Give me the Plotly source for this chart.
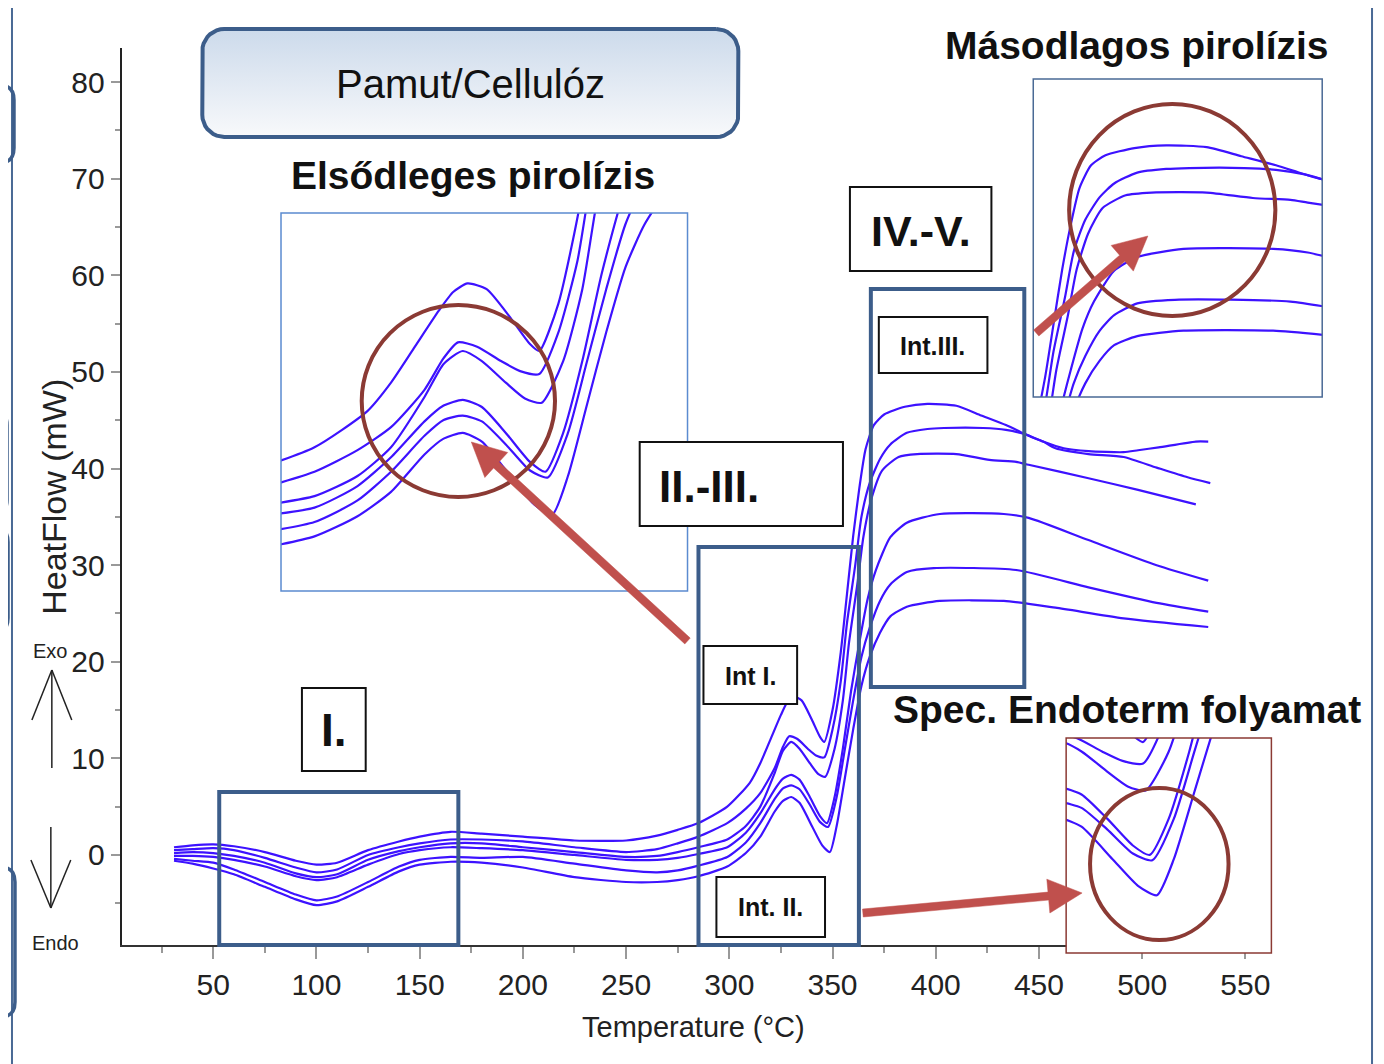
import numpy as np
import plotly.graph_objects as go

# page body has an 8px margin; figure coordinates are screen coordinates minus 8
OFF = 8
W, H = 1376, 1056

# ---------------- data ----------------
T_c1 = [31, 40, 50, 60, 75, 90, 100, 110, 125, 140, 150, 165, 180, 200, 225, 250, 265, 275, 285, 299,
        310, 315, 320, 325, 328, 331, 335, 340, 344, 346, 350, 354, 357, 360, 363, 366, 370, 375, 385,
        396, 410, 422, 434, 441, 446, 452, 458, 474, 491, 507, 522, 533]
HF_c1 = [0.8, 1.0, 1.1, 0.9, 0.3, -0.6, -1.0, -0.8, 0.5, 1.4, 1.9, 2.4, 2.2, 1.9, 1.5, 1.5, 2.0, 2.6, 3.3, 5.0,
         7.5, 9.5, 12.0, 14.5, 15.8, 16.4, 16.0, 14.0, 12.2, 11.7, 15.0, 21.0, 27.0, 33.0, 38.0, 42.0, 44.5, 45.6, 46.4,
         46.7, 46.5, 45.5, 44.5, 43.8, 43.3, 42.8, 42.1, 41.5, 41.2, 40.1, 39.1, 38.5]

T_c2 = [31, 40, 50, 60, 75, 90, 100, 110, 125, 140, 150, 165, 180, 200, 225, 250, 265, 275, 285, 299,
        308, 315, 322, 326, 329, 333, 338, 342, 346, 350, 354, 357, 361, 364, 368, 373, 378, 386, 396,
        404, 423, 434, 444, 452, 462, 474, 491, 498, 508, 526, 532]
HF_c2 = [0.5, 0.6, 0.7, 0.5, -0.3, -1.3, -1.8, -1.5, 0.0, 0.8, 1.2, 1.6, 1.6, 1.4, 0.8, 0.3, 0.6, 1.2, 1.9, 3.3,
         4.8, 6.4, 9.0, 11.2, 12.3, 12.0, 11.0, 10.3, 10.1, 13.0, 18.0, 24.0, 30.0, 35.0, 38.5, 41.0, 42.5, 43.7, 44.1,
         44.2, 44.2, 44.0, 43.5, 42.8, 42.1, 41.8, 41.7, 41.9, 42.2, 42.8, 42.8]

T_c3 = [31, 40, 50, 60, 75, 90, 100, 110, 125, 140, 150, 165, 180, 200, 225, 250, 265, 275, 285, 299,
        308, 315, 322, 326, 330, 334, 339, 343, 346.5, 351, 355, 358, 362, 365, 369, 374, 382, 391, 410,
        426, 439, 445, 474, 498, 526]
HF_c3 = [0.2, 0.3, 0.2, -0.1, -0.8, -1.9, -2.3, -2.0, -0.5, 0.4, 0.8, 1.2, 1.2, 0.8, 0.3, -0.2, -0.1, 0.3, 0.8, 1.6,
         3.0, 5.0, 8.5, 10.8, 11.7, 11.0, 9.5, 8.4, 8.1, 11.0, 16.0, 22.0, 28.0, 33.0, 37.0, 39.8, 41.2, 41.5, 41.5,
         40.9, 40.7, 40.4, 39.0, 37.8, 36.3]

T_c4 = [31, 40, 50, 60, 75, 90, 100, 110, 125, 140, 150, 165, 180, 200, 225, 250, 265, 275, 285, 299,
        308, 315, 322, 326, 330, 334, 339, 344, 347.3, 351, 355, 359, 363, 367, 371, 378, 386, 402, 433,
        445, 474, 507, 532]
HF_c4 = [-0.1, -0.1, -0.2, -0.5, -1.2, -2.2, -2.6, -2.3, -1.0, 0.1, 0.5, 0.8, 0.7, 0.5, 0.0, -0.5, -0.5, -0.3, 0.1, 0.8,
         2.3, 4.3, 6.8, 7.9, 8.3, 7.8, 6.0, 4.0, 3.3, 6.0, 11.0, 17.0, 22.0, 26.5, 29.5, 32.9, 34.4, 35.3, 35.3,
         34.9, 32.6, 30.0, 28.4]

T_c5 = [31, 40, 50, 60, 75, 90, 100, 110, 125, 140, 150, 165, 180, 200, 225, 250, 265, 275, 285, 299,
        308, 315, 322, 326, 330, 334, 339, 344, 347.8, 352, 356, 360, 364, 368, 373, 378, 386, 399, 439,
        474, 507, 532]
HF_c5 = [-0.4, -0.6, -0.8, -1.5, -2.8, -4.1, -4.7, -4.3, -2.8, -1.2, -0.5, -0.2, -0.3, -0.2, -0.9, -1.6, -1.8, -1.6, -1.1, -0.2,
         1.3, 3.3, 5.8, 6.9, 7.2, 6.8, 5.2, 3.4, 2.9, 6.0, 11.0, 16.0, 20.5, 23.5, 26.3, 28.0, 29.3, 29.7, 29.5,
         27.7, 26.1, 25.2]

T_c6 = [31, 40, 50, 60, 75, 90, 100, 110, 125, 140, 150, 165, 180, 200, 225, 250, 265, 275, 285, 299,
        308, 315, 322, 326, 330, 334, 340, 345, 348.7, 352, 356, 360, 364, 368, 373, 378, 386, 402, 433,
        458, 491, 532]
HF_c6 = [-0.6, -0.9, -1.4, -2.0, -3.3, -4.6, -5.2, -4.8, -3.3, -1.7, -1.0, -0.7, -0.8, -1.3, -2.3, -2.8, -2.8, -2.6, -2.2, -1.2,
         0.2, 1.9, 4.5, 5.6, 6.0, 5.4, 3.0, 1.0, 0.3, 3.0, 8.0, 13.0, 17.5, 20.5, 23.0, 24.7, 25.7, 26.3, 26.3,
         25.6, 24.5, 23.6]

x_ticks = [50, 100, 150, 200, 250, 300, 350, 400, 450, 500, 550]
y_ticks = [0, 10, 20, 30, 40, 50, 60, 70, 80]

curves = [(T_c1, HF_c1), (T_c2, HF_c2), (T_c3, HF_c3), (T_c4, HF_c4), (T_c5, HF_c5), (T_c6, HF_c6)]
for t, h in curves:
    assert len(t) == len(h), (len(t), len(h))


# ---------------- helpers (screen pixel -> paper) ----------------
def px(x):
    return (x - OFF) / W


def py(y):
    return 1 - (y - OFF) / H


LINE = '#3d12ff'
BLUE_BOX = '#3c5d8a'
BROWN = '#8b3a34'
ARROW = '#c0504d'
SANS = 'Liberation Sans, Arial, sans-serif'

fig = go.Figure()

# main curves
for t, h in curves:
    fig.add_trace(go.Scatter(x=t, y=h, mode='lines', xaxis='x', yaxis='y',
                             line=dict(color=LINE, width=2.2, shape='spline', smoothing=0.6),
                             showlegend=False, hoverinfo='skip'))

insets = [
    dict(a='2', box=(282, 213, 690, 591), xr=(292, 377), yr=(-5, 21.3), border='#5b8bd0'),
    dict(a='3', box=(1037, 79, 1327, 397), xr=(350, 450), yr=(19, 54), border='#4a6a95'),
    dict(a='4', box=(1070, 738, 1276, 953), xr=(331, 371), yr=(-4, 12), border=BROWN),
]

layout_axes = {}
for ins in insets:
    a = ins['a']
    x0, y0, x1, y1 = ins['box']
    xr, yr = ins['xr'], ins['yr']
    fig.add_trace(go.Scatter(x=[xr[0], xr[1], xr[1], xr[0], xr[0]], y=[yr[0], yr[0], yr[1], yr[1], yr[0]],
                             mode='lines', fill='toself', fillcolor='white', line=dict(width=0),
                             xaxis='x' + a, yaxis='y' + a, showlegend=False, hoverinfo='skip'))
    for t, h in curves:
        fig.add_trace(go.Scatter(x=t, y=h, mode='lines', xaxis='x' + a, yaxis='y' + a,
                                 line=dict(color=LINE, width=2.2, shape='spline', smoothing=0.6),
                                 showlegend=False, hoverinfo='skip'))
    layout_axes['xaxis' + a] = dict(domain=[px(x0), px(x1)], range=list(xr), visible=False,
                                    anchor='y' + a, fixedrange=True)
    layout_axes['yaxis' + a] = dict(domain=[py(y1), py(y0)], range=list(yr), visible=False,
                                    anchor='x' + a, fixedrange=True)

# screen-pixel overlay axis for the title box with gradient fill
bx0, by0, bx1, by1, r = 203, 29, 741, 137, 22
pts = []
for cx, cy, a0 in [(bx1 - r, by0 + r, -90), (bx1 - r, by1 - r, 0), (bx0 + r, by1 - r, 90), (bx0 + r, by0 + r, 180)]:
    for ang in np.linspace(a0, a0 + 90, 10):
        pts.append((cx + r * np.cos(np.radians(ang)), cy + r * np.sin(np.radians(ang))))
pts.append(pts[0])
fig.add_trace(go.Scatter(x=[p[0] for p in pts], y=[-p[1] for p in pts], mode='lines',
                         fill='toself', fillgradient=dict(type='vertical',
                                                          colorscale=[[0, '#f8f9fb'], [1, '#ccdaeb']]),
                         line=dict(color=BLUE_BOX, width=4), xaxis='x5', yaxis='y5',
                         showlegend=False, hoverinfo='skip'))
layout_axes['xaxis5'] = dict(domain=[0, 1], range=[OFF, OFF + W], visible=False, anchor='y5', fixedrange=True)
layout_axes['yaxis5'] = dict(domain=[0, 1], range=[-(OFF + H), -OFF], visible=False, anchor='x5', fixedrange=True)

# ---------------- shapes ----------------
shapes = []

# outer frame
shapes.append(dict(type='rect', xref='paper', yref='paper', x0=px(12), y0=py(6), x1=px(1377), y1=py(1090),
                   line=dict(color='#4a6a95', width=2), layer='above'))

# partial rounded boxes cut by the left edge
for (xr_, t_, b_) in [(14, 85, 163), (7, 410, 515), (8, 527, 633), (15, 867, 1017)]:
    rr = 15
    path = (f'M {px(-60)} {py(t_)} L {px(xr_ - rr)} {py(t_)} Q {px(xr_)} {py(t_)} {px(xr_)} {py(t_ + rr)} '
            f'L {px(xr_)} {py(b_ - rr)} Q {px(xr_)} {py(b_)} {px(xr_ - rr)} {py(b_)} L {px(-60)} {py(b_)}')
    shapes.append(dict(type='path', xref='paper', yref='paper', path=path,
                       line=dict(color=BLUE_BOX, width=3.5), layer='above'))

# inset borders
for ins in insets:
    x0, y0, x1, y1 = ins['box']
    shapes.append(dict(type='rect', xref='paper', yref='paper', x0=px(x0), y0=py(y0), x1=px(x1), y1=py(y1),
                       line=dict(color=ins['border'], width=1.5), layer='above'))

# region boxes
for (x0, y0, x1, y1) in [(220, 792, 460, 945), (701, 547, 862, 945), (874, 289, 1028, 687)]:
    shapes.append(dict(type='rect', xref='paper', yref='paper', x0=px(x0), y0=py(y0), x1=px(x1), y1=py(y1),
                       line=dict(color=BLUE_BOX, width=4), layer='above'))

# circles
for (x0, y0, x1, y1) in [(363, 305, 557, 497), (1073, 104, 1280, 316), (1094, 788, 1233, 940)]:
    shapes.append(dict(type='circle', xref='paper', yref='paper', x0=px(x0), y0=py(y0), x1=px(x1), y1=py(y1),
                       line=dict(color=BROWN, width=4), layer='above'))


def arrow_path(tx, ty, hx, hy, w=8, hl=34, hw=17):
    d = np.hypot(hx - tx, hy - ty)
    ux, uy = (hx - tx) / d, (hy - ty) / d
    nx, ny = -uy, ux
    bx, by = hx - ux * hl, hy - uy * hl
    p = [(tx + nx * w / 2, ty + ny * w / 2), (bx + nx * w / 2, by + ny * w / 2), (bx + nx * hw, by + ny * hw),
         (hx, hy), (bx - nx * hw, by - ny * hw), (bx - nx * w / 2, by - ny * w / 2),
         (tx - nx * w / 2, ty - ny * w / 2)]
    return 'M ' + ' L '.join(f'{px(x):.5f} {py(y):.5f}' for x, y in p) + ' Z'


for (tx, ty, hx, hy) in [(690, 641, 473, 442), (1040, 333, 1152, 236), (866, 913, 1086, 893)]:
    shapes.append(dict(type='path', xref='paper', yref='paper', path=arrow_path(tx, ty, hx, hy),
                       fillcolor=ARROW, line=dict(color=ARROW, width=0.5), layer='above'))

# label boxes
for (x0, y0, x1, y1) in [(303, 688, 367, 771), (642, 442, 846, 526), (853, 187, 995, 271),
                         (706, 646, 800, 704), (719, 877, 828, 937), (882, 317, 991, 373)]:
    shapes.append(dict(type='rect', xref='paper', yref='paper', x0=px(x0), y0=py(y0), x1=px(x1), y1=py(y1),
                       fillcolor='white', line=dict(color='#111', width=2), layer='above'))

# Exo / Endo arrows
ax_c = '#222'
for (x0, y0, x1, y1) in [(52, 768, 52, 670), (32, 720, 52, 670), (72, 720, 52, 670),
                         (51, 827, 51, 908), (31, 860, 51, 908), (71, 860, 51, 908)]:
    shapes.append(dict(type='line', xref='paper', yref='paper', x0=px(x0), y0=py(y0), x1=px(x1), y1=py(y1),
                       line=dict(color=ax_c, width=1.5), layer='above'))

# ---------------- annotations ----------------
ann = []


def text(x, y, s, size, bold=False, angle=0, color='#111'):
    ann.append(dict(x=px(x), y=py(y), xref='paper', yref='paper', text=f'<b>{s}</b>' if bold else s,
                    showarrow=False, xanchor='center', yanchor='middle', textangle=angle,
                    font=dict(size=size, family=SANS, color=color)))


text(472, 84, 'Pamut/Cellulóz', 40)
text(475, 175, 'Elsődleges pirolízis', 39, bold=True)
text(1141, 45, 'Másodlagos pirolízis', 39, bold=True)
text(1131, 709, 'Spec. Endoterm folyamat', 39, bold=True)
text(335, 730, 'I.', 46, bold=True)
text(712, 486, 'II.-III.', 44, bold=True)
text(924, 231, 'IV.-V.', 43, bold=True)
text(753, 676, 'Int I.', 25, bold=True)
text(773, 907, 'Int. II.', 25, bold=True)
text(936, 346, 'Int.III.', 25, bold=True)
text(54, 497, 'HeatFlow (mW)', 34, angle=-90, color='#222')
text(696, 1027, 'Temperature (°C)', 29, color='#222')
text(50, 651, 'Exo', 20, color='#222')
text(56, 943, 'Endo', 20, color='#222')

tickfont = dict(family=SANS, size=30, color='#222')

fig.update_layout(
    width=W, height=H, margin=dict(l=0, r=0, t=0, b=0),
    paper_bgcolor='white', plot_bgcolor='rgba(0,0,0,0)',
    showlegend=False,
    xaxis=dict(domain=[px(122), px(1270)], range=[5.6, 559.7], tickmode='array', tickvals=x_ticks,
               ticks='outside', ticklen=12, tickwidth=1.5, tickcolor='#999', showline=True,
               linecolor='#333', linewidth=2, showgrid=False, zeroline=False, tickfont=tickfont,
               anchor='y', fixedrange=True,
               minor=dict(tick0=0, dtick=25, ticks='outside', ticklen=6, tickwidth=1.5, tickcolor='#999',
                          showgrid=False)),
    yaxis=dict(domain=[py(945), py(48)], range=[-9.32, 83.54], tickmode='array', tickvals=y_ticks,
               ticks='outside', ticklen=9, tickwidth=1.5, tickcolor='#999', showline=True,
               linecolor='#222', linewidth=2, showgrid=False, zeroline=False, tickfont=tickfont,
               anchor='x', fixedrange=True,
               minor=dict(tick0=0, dtick=5, ticks='outside', ticklen=5, tickwidth=1.5, tickcolor='#999',
                          showgrid=False)),
    shapes=shapes, annotations=ann,
    **layout_axes,
)

fig.write_html('out.html')
